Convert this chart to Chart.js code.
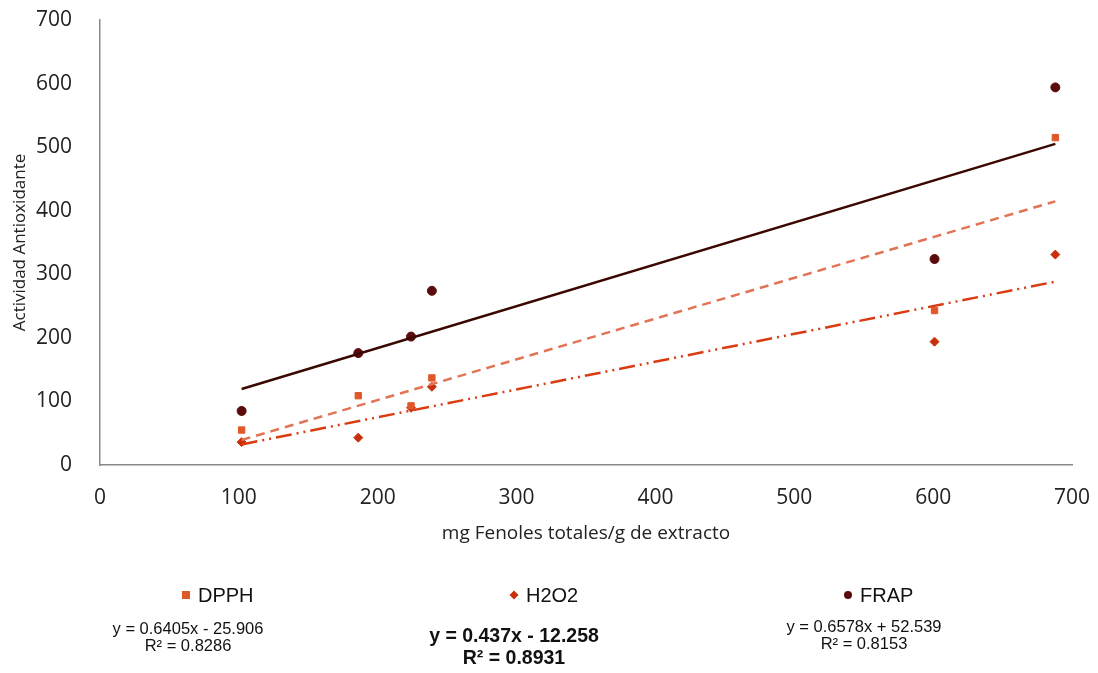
<!DOCTYPE html>
<html>
<head>
<meta charset="utf-8">
<script src="https://cdn.jsdelivr.net/npm/chart.js@4.4.1/dist/chart.umd.min.js"></script>
<style>
  body { margin: 0; background: #fff; }
  #wrap { position: relative; width: 1098px; height: 673px; }
  .leg { position: absolute; font-family: "Liberation Sans Narrow", "Liberation Sans", Arial, sans-serif; color: #111; font-size: 20px; white-space: nowrap; }
  .mk { display: inline-block; width: 8px; height: 8px; margin-right: 8px; vertical-align: middle; position: relative; top: -2px; }
  .eq { position: absolute; font-family: "Liberation Sans Narrow", "Liberation Sans", Arial, sans-serif; color: #111; text-align: center; line-height: 1.05; white-space: nowrap; transform: translateX(-50%); }
</style>
</head>
<body>
<div id="wrap">
  <canvas id="scatterChart" width="1098" height="673"></canvas>
</div>
<script>
// SCATTER + TRENDLINES
var seriesNames = ["DPPH", "H2O2", "FRAP"];
var xValues = [102, 186, 224, 239, 601, 688];
var dpphValues = [55, 109, 93, 137, 243, 515];
var h2o2Values = [36, 43, 90, 123, 194, 331];
var frapValues = [85, 176, 202, 274, 324, 594];
var slopes = [0.6405, 0.437, 0.6578];
var intercepts = [-25.906, -12.258, 52.539];
var r2Values = ["0.8286", "0.8931", "0.8153"];
var eqTexts = ["y = 0.6405x - 25.906", "y = 0.437x - 12.258", "y = 0.6578x + 52.539"];
var markerColors = ["#E0582A", "#C8300C", "#5A0C0C"];
var lineColors = ["#E27456", "#D93C10", "#3A0800"];
var axisTicks = [0, 100, 200, 300, 400, 500, 600, 700];

function points(ys) {
  return xValues.map(function (x, i) { return { x: x, y: ys[i] }; });
}
function trend(k) {
  var x0 = xValues[0], x1 = xValues[xValues.length - 1];
  return [
    { x: x0, y: slopes[k] * x0 + intercepts[k] },
    { x: x1, y: slopes[k] * x1 + intercepts[k] }
  ];
}

var tickFont = { family: "'Open Sans', sans-serif", size: 21 };

new Chart("scatterChart", {
  type: "scatter",
  data: {
    datasets: [
      { label: "DPPH trend", type: "line", data: trend(0), borderColor: lineColors[0], borderWidth: 2.5, borderDash: [9, 6], pointRadius: 0, fill: false },
      { label: "H2O2 trend", type: "line", data: trend(1), borderColor: lineColors[1], borderWidth: 2.5, borderDash: [16, 5, 2, 5, 2, 5], pointRadius: 0, fill: false },
      { label: "FRAP trend", type: "line", data: trend(2), borderColor: lineColors[2], borderWidth: 2.5, pointRadius: 0, fill: false },
      { label: seriesNames[0], data: points(dpphValues), pointStyle: "rect", pointRadius: 4.5, backgroundColor: markerColors[0], borderColor: markerColors[0] },
      { label: seriesNames[1], data: points(h2o2Values), pointStyle: "rectRot", pointRadius: 4.5, backgroundColor: markerColors[1], borderColor: markerColors[1] },
      { label: seriesNames[2], data: points(frapValues), pointStyle: "circle", pointRadius: 4.5, backgroundColor: markerColors[2], borderColor: markerColors[2] }
    ]
  },
  options: {
    responsive: false,
    animation: false,
    layout: { padding: { top: 20, right: 26, bottom: 123, left: 0 } },
    plugins: { legend: { display: false }, tooltip: { enabled: false } },
    scales: {
      x: {
        type: "linear", min: 0, max: 700,
        afterBuildTicks: function (s) { s.ticks = axisTicks.map(function (v) { return { value: v }; }); },
        grid: { display: false, drawTicks: false },
        border: { color: "#8a8a8a", width: 1.5 },
        ticks: { color: "#222", font: tickFont, padding: 20 },
        title: { display: true, text: "mg Fenoles totales/g de extracto", color: "#222", font: { family: "'Open Sans', sans-serif", size: 19 }, padding: { top: 10, bottom: 5 } },
        afterFit: function (s) { s.height = 85; s.paddingLeft = 0; s.paddingRight = 0; }
      },
      y: {
        type: "linear", min: 0, max: 700,
        afterBuildTicks: function (s) { s.ticks = axisTicks.map(function (v) { return { value: v }; }); },
        grid: { display: false, drawTicks: false },
        border: { color: "#8a8a8a", width: 1.5 },
        ticks: { color: "#222", font: tickFont, padding: 28 },
        title: { display: true, text: "Actividad Antioxidante", color: "#222", font: { family: "'Open Sans', sans-serif", size: 17 }, padding: { top: 10, bottom: 0 } },
        afterFit: function (s) { s.width = 100; s.paddingTop = 0; s.paddingBottom = 0; }
      }
    }
  }
});

// legend + equations as html text
var legX = [186, 514, 848];
var eqX = [188, 514, 864];
var eqY = [620, 624, 618];
var eqSize = [16.5, 19.5, 16.5];
var wrap = document.getElementById("wrap");
seriesNames.forEach(function (name, i) {
  var d = document.createElement("div");
  d.className = "leg";
  d.style.left = (legX[i] - 4) + "px";
  d.style.top = "584px";
  var m = document.createElement("span");
  m.className = "mk";
  m.style.background = markerColors[i];
  if (i === 1) { m.style.transform = "rotate(45deg) scale(0.8)"; }
  if (i === 2) { m.style.borderRadius = "50%"; }
  d.appendChild(m);
  d.appendChild(document.createTextNode(name));
  wrap.appendChild(d);

  var e = document.createElement("div");
  e.className = "eq";
  e.style.left = eqX[i] + "px";
  e.style.top = eqY[i] + "px";
  e.style.fontSize = eqSize[i] + "px";
  if (i === 1) { e.style.fontWeight = "bold"; e.style.lineHeight = "1.15"; }
  e.innerHTML = eqTexts[i] + "<br>R\u00b2 = " + r2Values[i];
  wrap.appendChild(e);
});
</script>
</body>
</html>
